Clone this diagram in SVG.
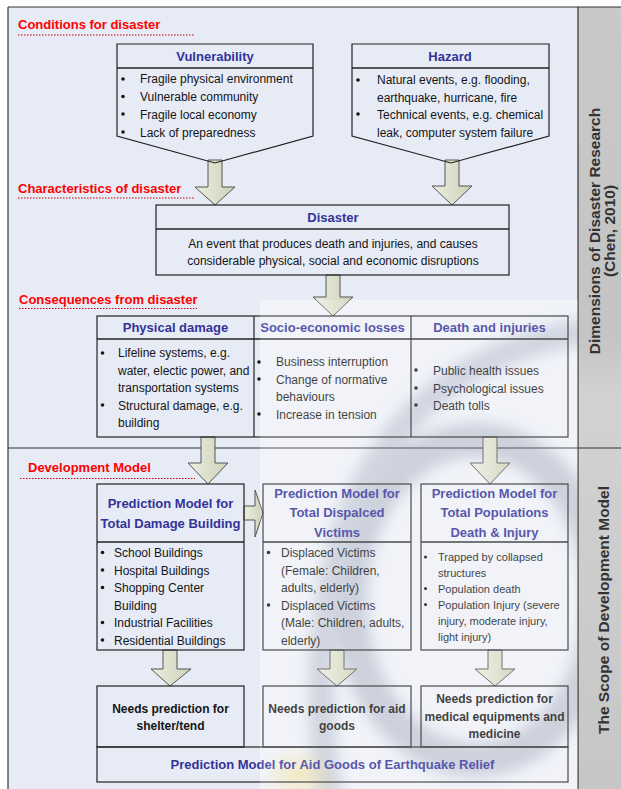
<svg xmlns="http://www.w3.org/2000/svg" width="621" height="789" viewBox="0 0 621 789">
<defs>
<style>
.t{font-family:"Liberation Sans",Arial,sans-serif;font-size:12px;fill:#151515}
.s11{font-size:11px}
.h{font-family:"Liberation Sans",Arial,sans-serif;font-weight:bold;font-size:13px;fill:#333399;text-anchor:middle}
.bk{font-family:"Liberation Sans",Arial,sans-serif;font-weight:bold;font-size:12px;fill:#151515;text-anchor:middle}
.red{font-family:"Liberation Sans",Arial,sans-serif;font-weight:bold;font-size:13px;fill:#ff0000}
.ul{stroke:#c00000;stroke-width:1.2;stroke-dasharray:1.5 1.5;fill:none}
.box{fill:none;stroke:#222;stroke-width:1.2}
.sep{stroke:#222;stroke-width:1.6}
.arr{fill:url(#ag);stroke:#555;stroke-width:1;stroke-linejoin:miter}
.dot{fill:#151515}
.side{font-family:"Liberation Sans",Arial,sans-serif;font-weight:bold;font-size:15.5px;fill:#333;text-anchor:middle}
.frame{stroke:#333;stroke-width:1.2;fill:none}
</style>
<linearGradient id="ag" x1="0" y1="0" x2="1" y2="0">
<stop offset="0" stop-color="#eceee0"/>
<stop offset="1" stop-color="#cdd1b8"/>
</linearGradient>
<linearGradient id="gg" x1="0" y1="0" x2="0" y2="1">
<stop offset="0" stop-color="#c9c9c9"/>
<stop offset="0.42" stop-color="#c4c4c4"/>
<stop offset="0.5" stop-color="#d2d2d2"/>
<stop offset="1" stop-color="#c6c6c6"/>
</linearGradient>
<radialGradient id="yg" cx="0.5" cy="0.5" r="0.5">
<stop offset="0" stop-color="#f3dc8a" stop-opacity="0.6"/>
<stop offset="1" stop-color="#f3dc8a" stop-opacity="0"/>
</radialGradient>
<filter id="blur" x="-20%" y="-20%" width="140%" height="140%">
<feGaussianBlur stdDeviation="7"/>
</filter>
</defs>

<!-- background -->
<g id="background">
<rect x="0" y="0" width="621" height="789" fill="#ffffff"/>
<rect x="8" y="7" width="570" height="782" fill="#e6ebf5"/>
<rect x="260" y="300" width="318" height="489" fill="#eef1f8"/>
<g filter="url(#blur)" opacity="0.45" fill="none">
<ellipse cx="475" cy="600" rx="125" ry="160" stroke="#8d95ab" stroke-width="34"/>
<path d="M 330 800 C 300 600 340 360 600 330" stroke="#9aa2b6" stroke-width="26"/>
</g>
<ellipse cx="300" cy="775" rx="40" ry="30" fill="url(#yg)"/>
<rect x="578" y="7" width="43" height="782" fill="url(#gg)"/>
</g>

<!-- frame -->
<g id="frame">
<line class="frame" x1="8" y1="7" x2="621" y2="7"/>
<line class="frame" x1="8" y1="7" x2="8" y2="789"/>
<line class="frame" x1="578" y1="7" x2="578" y2="789"/>
<line class="frame" x1="8" y1="448" x2="621" y2="448"/>
</g>

<!-- section labels -->
<g id="label-conditions">
<text class="red" x="18" y="28.5">Conditions for disaster</text>
<line class="ul" x1="18" y1="35" x2="195" y2="35"/>
</g>
<g id="label-characteristics">
<text class="red" x="18" y="193">Characteristics of disaster</text>
<line class="ul" x1="18" y1="198" x2="195" y2="198"/>
</g>
<g id="label-consequences">
<text class="red" x="19" y="303.5">Consequences from disaster</text>
<line class="ul" x1="19" y1="308.5" x2="197" y2="308.5"/>
</g>
<g id="label-development">
<text class="red" x="28" y="472">Development Model</text>
<line class="ul" x1="20" y1="478.5" x2="195" y2="478.5"/>
</g>

<!-- connectors -->
<g id="connectors">
<polygon class="arr" points="208,160 222,160 222,187 235,187 215,205 195,187 208,187"/>
<polygon class="arr" points="445,160 459,160 459,186 472,186 452,205 432,186 445,186"/>
<polygon class="arr" points="326,275 340,275 340,297 353,297 333,316 313,297 326,297"/>
<polygon class="arr" points="201,437 215,437 215,463 228,463 208,484 188,463 201,463"/>
<polygon class="arr" points="483,437 497,437 497,463 510,463 490,484 470,463 483,463"/>
<polygon class="arr" points="244,506 255,506 255,490 263,513 255,537 255,520 244,520"/>
<polygon class="arr" points="163,650 177,650 177,669 191,669 170,686 151,669 163,669"/>
<polygon class="arr" points="330,650 344,650 344,669 357,669 337,686 317,669 330,669"/>
<polygon class="arr" points="488,650 502,650 502,669 515,669 495,686 475,669 488,669"/>
</g>

<!-- Vulnerability -->
<g id="node-vulnerability">
<polygon class="box" points="117,44 313,44 313,136 215,163 117,136"/>
<line class="sep" x1="117" y1="68" x2="313" y2="68"/>
<text class="h" x="215" y="61">Vulnerability</text>
<circle class="dot" cx="123" cy="79" r="1.8"/>
<circle class="dot" cx="123" cy="96.5" r="1.8"/>
<circle class="dot" cx="123" cy="114" r="1.8"/>
<circle class="dot" cx="123" cy="132" r="1.8"/>
<text class="t" x="140" y="83">Fragile physical environment</text>
<text class="t" x="140" y="101">Vulnerable community</text>
<text class="t" x="140" y="118.5">Fragile local economy</text>
<text class="t" x="140" y="136.5">Lack of preparedness</text>
</g>

<!-- Hazard -->
<g id="node-hazard">
<polygon class="box" points="352,44 549,44 549,136 451,163 352,136"/>
<line class="sep" x1="352" y1="68" x2="549" y2="68"/>
<text class="h" x="450" y="61">Hazard</text>
<circle class="dot" cx="358" cy="80" r="1.8"/>
<circle class="dot" cx="358" cy="114" r="1.8"/>
<text class="t" x="377" y="84">Natural events, e.g. flooding,</text>
<text class="t" x="377" y="101.5">earthquake, hurricane, fire</text>
<text class="t" x="377" y="118.5">Technical events, e.g. chemical</text>
<text class="t" x="377" y="136.5">leak, computer system failure</text>
</g>

<!-- Disaster -->
<g id="node-disaster">
<rect class="box" x="156" y="205" width="353" height="70"/>
<line class="sep" x1="156" y1="229" x2="509" y2="229"/>
<text class="h" x="333" y="222">Disaster</text>
<text class="t" x="333" y="247.5" text-anchor="middle">An event that produces death and injuries, and causes</text>
<text class="t" x="333" y="264.5" text-anchor="middle">considerable physical, social and economic disruptions</text>
</g>

<!-- Consequences table -->
<g id="node-consequences">
<rect class="box" x="97" y="316" width="471" height="121"/>
<line class="sep" x1="97" y1="339" x2="568" y2="339"/>
<line class="box" x1="254" y1="316" x2="254" y2="437"/>
<line class="box" x1="411" y1="316" x2="411" y2="437"/>
<text class="h" x="175.5" y="332">Physical damage</text>
<text class="h" x="332.5" y="332">Socio-economic losses</text>
<text class="h" x="489.5" y="332">Death and injuries</text>
<circle class="dot" cx="102.5" cy="353" r="1.8"/>
<circle class="dot" cx="102.5" cy="405" r="1.8"/>
<text class="t" x="118" y="357">Lifeline systems, e.g.</text>
<text class="t" x="118" y="374.5">water, electic power, and</text>
<text class="t" x="118" y="392">transportation systems</text>
<text class="t" x="118" y="409.5">Structural damage, e.g.</text>
<text class="t" x="118" y="427">building</text>
<circle class="dot" cx="259" cy="362" r="1.8"/>
<circle class="dot" cx="259" cy="379" r="1.8"/>
<circle class="dot" cx="259" cy="414" r="1.8"/>
<text class="t" x="276" y="366">Business interruption</text>
<text class="t" x="276" y="383.5">Change of normative</text>
<text class="t" x="276" y="400.5">behaviours</text>
<text class="t" x="276" y="418.5">Increase in tension</text>
<circle class="dot" cx="416" cy="370" r="1.8"/>
<circle class="dot" cx="416" cy="388" r="1.8"/>
<circle class="dot" cx="416" cy="405" r="1.8"/>
<text class="t" x="433" y="374.5">Public health issues</text>
<text class="t" x="433" y="392.5">Psychological issues</text>
<text class="t" x="433" y="409.5">Death tolls</text>
</g>

<!-- Development model boxes -->
<g id="node-damage-building">
<rect class="box" x="97" y="484" width="147" height="166"/>
<line class="sep" x1="97" y1="542" x2="244" y2="542"/>
<text class="h" x="170.5" y="508">Prediction Model for</text>
<text class="h" x="170.5" y="527.5">Total Damage Building</text>
<circle class="dot" cx="102.5" cy="552.5" r="1.8"/>
<circle class="dot" cx="102.5" cy="570" r="1.8"/>
<circle class="dot" cx="102.5" cy="587.5" r="1.8"/>
<circle class="dot" cx="102.5" cy="622.5" r="1.8"/>
<circle class="dot" cx="102.5" cy="640" r="1.8"/>
<text class="t" x="114" y="557">School Buildings</text>
<text class="t" x="114" y="574.5">Hospital Buildings</text>
<text class="t" x="114" y="592">Shopping Center</text>
<text class="t" x="114" y="609.5">Building</text>
<text class="t" x="114" y="627">Industrial Facilities</text>
<text class="t" x="114" y="644.5">Residential Buildings</text>
</g>

<g id="node-displaced-victims">
<rect class="box" x="263" y="484" width="148" height="166"/>
<line class="sep" x1="263" y1="542" x2="411" y2="542"/>
<text class="h" x="337" y="498">Prediction Model for</text>
<text class="h" x="337" y="517">Total Dispalced</text>
<text class="h" x="337" y="537">Victims</text>
<circle class="dot" cx="268.5" cy="552.5" r="1.8"/>
<circle class="dot" cx="268.5" cy="605" r="1.8"/>
<text class="t" x="281" y="557">Displaced Victims</text>
<text class="t" x="281" y="574.5">(Female: Children,</text>
<text class="t" x="281" y="592">adults, elderly)</text>
<text class="t" x="281" y="609.5">Displaced Victims</text>
<text class="t" x="281" y="627">(Male: Children, adults,</text>
<text class="t" x="281" y="644.5">elderly)</text>
</g>

<g id="node-populations">
<rect class="box" x="421" y="484" width="147" height="166"/>
<line class="sep" x1="421" y1="542" x2="568" y2="542"/>
<text class="h" x="494.5" y="498">Prediction Model for</text>
<text class="h" x="494.5" y="517">Total Populations</text>
<text class="h" x="494.5" y="537">Death &amp; Injury</text>
<circle class="dot" cx="425.5" cy="557" r="1.6"/>
<circle class="dot" cx="425.5" cy="588.5" r="1.6"/>
<circle class="dot" cx="425.5" cy="604.5" r="1.6"/>
<text class="t s11" x="438" y="561">Trapped by collapsed</text>
<text class="t s11" x="438" y="576.5">structures</text>
<text class="t s11" x="438" y="592.5">Population death</text>
<text class="t s11" x="438" y="608.5">Population Injury (severe</text>
<text class="t s11" x="438" y="625">injury, moderate injury,</text>
<text class="t s11" x="438" y="641">light injury)</text>
</g>

<!-- Needs boxes -->
<g id="node-needs-shelter">
<rect class="box" x="97" y="686" width="147" height="61"/>
<text class="bk" x="170.5" y="712.5">Needs prediction for</text>
<text class="bk" x="170.5" y="729.5">shelter/tend</text>
</g>
<g id="node-needs-aid">
<rect class="box" x="263" y="686" width="148" height="61"/>
<text class="bk" x="337" y="712.5">Needs prediction for aid</text>
<text class="bk" x="337" y="729.5">goods</text>
</g>
<g id="node-needs-medical">
<rect class="box" x="421" y="686" width="147" height="61"/>
<text class="bk" x="494.5" y="702.5">Needs prediction for</text>
<text class="bk" x="494.5" y="720.5">medical equipments and</text>
<text class="bk" x="494.5" y="737.5">medicine</text>
</g>

<g id="node-aid-goods-model">
<rect class="box" x="97" y="747" width="471" height="35"/>
<text class="h" x="332.5" y="768.5">Prediction Model for Aid Goods of Earthquake Relief</text>
</g>

<!-- overlay (watermark lightening) -->
<rect x="260" y="300" width="318" height="489" fill="#ffffff" opacity="0.18"/>

<!-- side labels -->
<g id="side-dimensions">
<text class="side" transform="translate(600,231) rotate(-90)">Dimensions of Disaster Research</text>
<text class="side" transform="translate(615,231) rotate(-90)">(Chen, 2010)</text>
</g>
<g id="side-scope">
<text class="side" transform="translate(609,610) rotate(-90)">The Scope of Development Model</text>
</g>
</svg>
